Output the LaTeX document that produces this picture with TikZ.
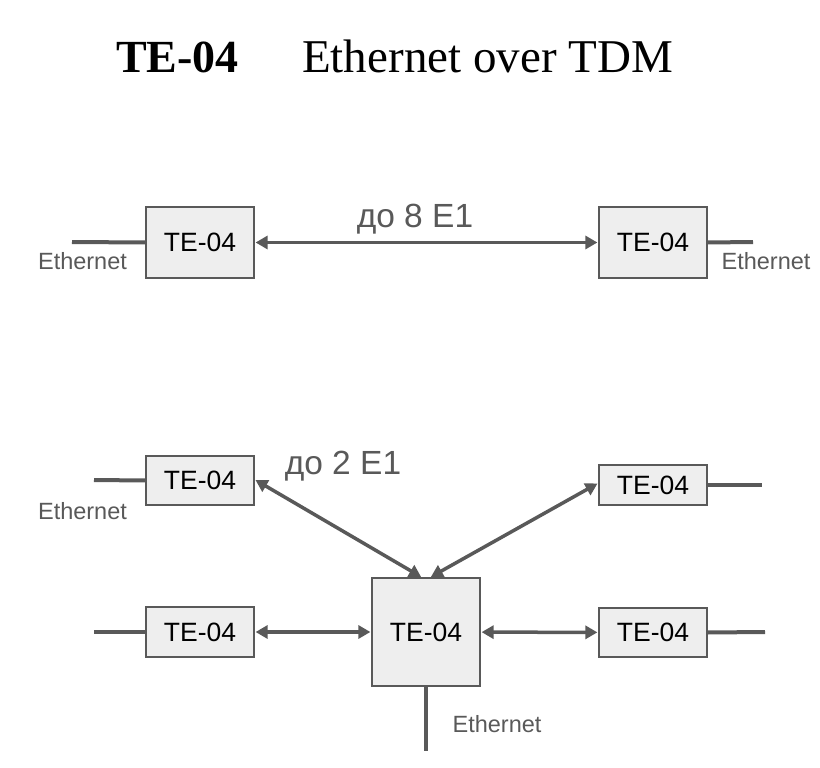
\documentclass[tikz,border=0pt]{standalone}
\usepackage{fontspec}
\setmainfont{Liberation Serif}
\setsansfont{Liberation Sans}
\usepackage{xcolor}
\usetikzlibrary{arrows.meta}

\definecolor{linegray}{HTML}{595959}
\definecolor{boxgray}{HTML}{EEEEEE}

\tikzset{
  unit/.style={draw=linegray, fill=boxgray, line width=1.2pt, inner sep=0pt,
    minimum width=108pt, font=\sffamily\fontsize{26.5}{30}\selectfont},
  wire/.style={linegray, line width=4pt},
  link/.style={wire, line width=3.5pt, {Triangle[length=12pt,width=13pt]}-{Triangle[length=12pt,width=13pt]}, shorten <=1pt, shorten >=1pt},
  ethlabel/.style={linegray, inner sep=0pt, font=\sffamily\fontsize{23.5}{27}\selectfont},
  ratelabel/.style={linegray, inner sep=0pt, font=\sffamily\fontsize{33.5}{38}\selectfont}
}

\begin{document}
\begin{tikzpicture}[x=1pt, y=-1pt]
  \useasboundingbox (0,0) rectangle (820,768);
  % title
  \node[anchor=base west, inner sep=0pt, font=\bfseries\fontsize{46}{52}\selectfont] (ttlname) at (116,73) {TE-04};
  \node[anchor=base west, inner sep=0pt, font=\fontsize{47}{52}\selectfont] (ttltext) at (302,73) {Ethernet over TDM};

  % point to point
  \node[unit, minimum height=71pt] (pl) at (200,242.5) {TE-04};
  \node[unit, minimum height=71pt] (pr) at (653,242.5) {TE-04};
  \coordinate (plend) at (72,242);
  \coordinate (prend) at (753,242);
  \draw[wire] (plend) -- (pl.west);
  \draw[wire] (pr.east) -- (prend);
  \draw[link] (pl) -- (pr);
  \node[ratelabel] (rate8) at (415,219) {до 8 E1};
  \node[ethlabel] (ethpl) at (82.5,261) {Ethernet};
  \node[ethlabel] (ethpr) at (766,261) {Ethernet};

  % star
  \node[unit, minimum height=108pt] (hub) at (426,632) {TE-04};
  \node[unit, minimum height=49pt] (sa) at (200,480.5) {TE-04};
  \node[unit, minimum height=40pt] (sb) at (653,485) {TE-04};
  \node[unit, minimum height=50pt] (sc) at (200,632) {TE-04};
  \node[unit, minimum height=49pt] (sd) at (653,632.5) {TE-04};
  \coordinate (saend) at (94,480);
  \coordinate (sbend) at (762,485);
  \coordinate (scend) at (94,632);
  \coordinate (sdend) at (765,632);
  \coordinate (hubend) at (426,751);
  \draw[wire] (saend) -- (sa.west);
  \draw[wire] (sb.east) -- (sbend);
  \draw[wire] (scend) -- (sc.west);
  \draw[wire] (sd.east) -- (sdend);
  \draw[wire] (hub.south) -- (hubend);
  \draw[link] ([yshift=1pt]sa.east) -- ([xshift=-4pt]hub.north);
  \draw[link] ([yshift=2pt]sb.west) -- ([xshift=4pt]hub.north);
  \draw[link] (sc) -- (hub);
  \draw[link] (hub) -- (sd);
  \node[ratelabel] (rate2) at (343,466) {до 2 E1};
  \node[ethlabel] (ethsa) at (82.5,511) {Ethernet};
  \node[ethlabel] (ethhub) at (497,724) {Ethernet};
\end{tikzpicture}
\end{document}
